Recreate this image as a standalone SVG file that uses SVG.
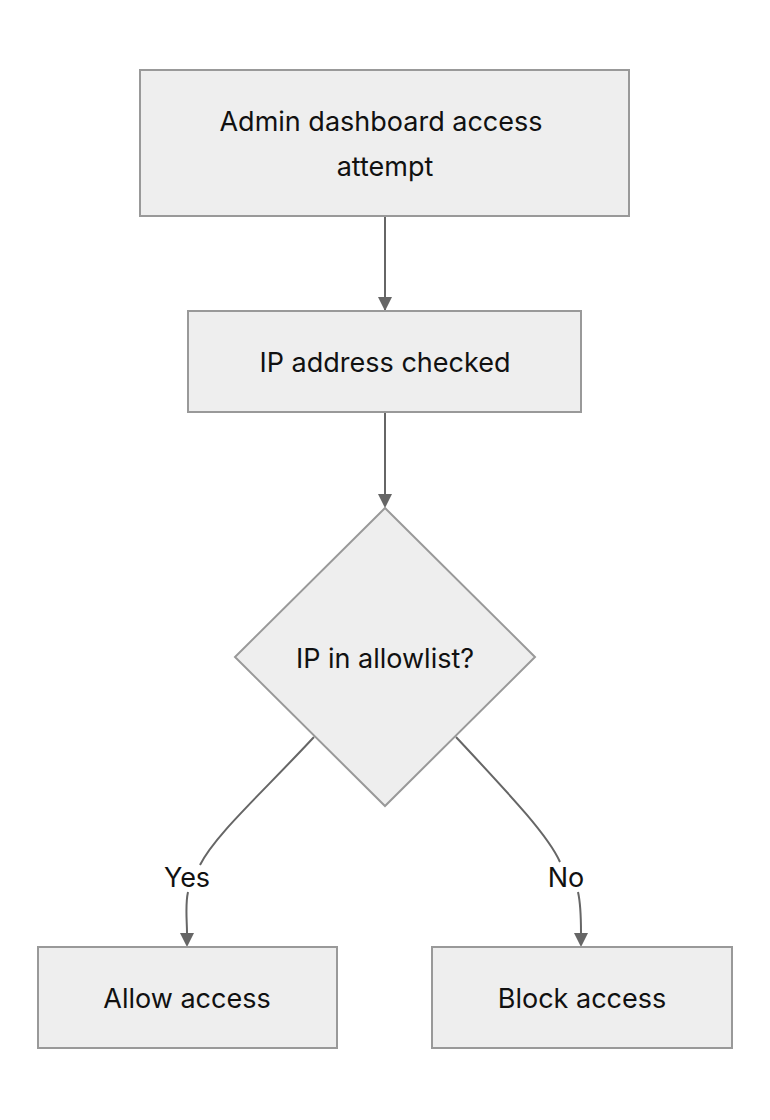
<svg xmlns="http://www.w3.org/2000/svg" width="770" height="1120" viewBox="0 0 770 1120">
<style>
.n{fill:#eeeeee;stroke:#999999;stroke-width:2}
.t{font-family:Inter,"Liberation Sans",sans-serif;font-size:27px;fill:#111;text-anchor:middle;dominant-baseline:central}
.e{fill:none;stroke:#666666;stroke-width:2;marker-end:url(#a)}
</style>
<defs><marker id="a" viewBox="0 0 10 10" refX="9" refY="5" markerWidth="7" markerHeight="7" markerUnits="userSpaceOnUse" orient="auto"><path d="M0,0L10,5L0,10z" fill="#666666" transform="scale(1)"/></marker></defs>
<rect width="770" height="1120" fill="#fff"/>
<g id="edges">
<path class="e" d="M385,217V311" style="marker-end:none"/><path d="M378,297L385,311L392,297z" fill="#666"/>
<path class="e" d="M385,413V494" style="marker-end:none"/><path d="M378,494L385,508L392,494z" fill="#666"/>
<path class="e" d="M314,737C260,795 215,835 200,865 M188,892C185,905 187,920 187,933" style="marker-end:none"/><path d="M180,933L187,947L194,933z" fill="#666"/>
<path class="e" d="M456,737C510,795 548,835 560,862 M578,892C581,905 581,920 581,933" style="marker-end:none"/><path d="M574,933L581,947L588,933z" fill="#666"/>
<text class="t" x="187" y="877">Yes</text>
<text class="t" x="566" y="877">No</text>
</g>
<g id="n1"><rect class="n" x="140" y="70" width="489" height="146"/><text class="t" x="381" y="121">Admin dashboard access</text><text class="t" x="385" y="166">attempt</text></g>
<g id="n2"><rect class="n" x="188" y="311" width="393" height="101"/><text class="t" x="385" y="362">IP address checked</text></g>
<g id="n3"><polygon class="n" points="385,508 535,657 385,806 235,657"/><text class="t" x="385" y="658">IP in allowlist?</text></g>
<g id="n4"><rect class="n" x="38" y="947" width="299" height="101"/><text class="t" x="187" y="998">Allow access</text></g>
<g id="n5"><rect class="n" x="432" y="947" width="300" height="101"/><text class="t" x="582" y="998">Block access</text></g>
</svg>
